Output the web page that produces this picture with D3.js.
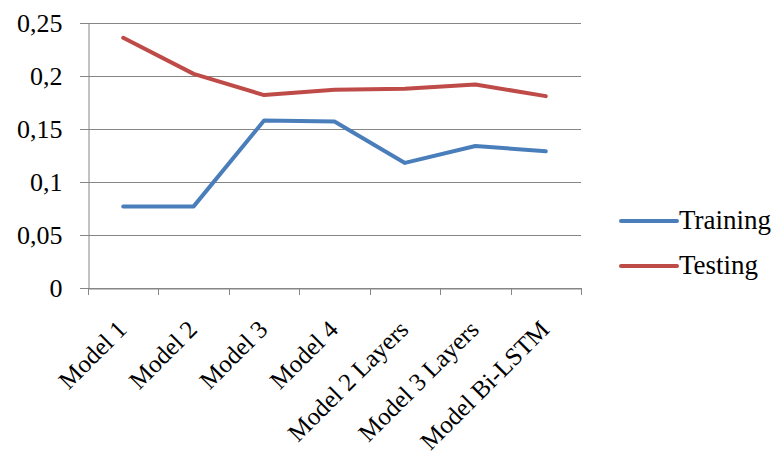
<!DOCTYPE html>
<html>
<head>
<meta charset="utf-8">
<script src="https://cdn.jsdelivr.net/npm/d3@7"></script>
<style>
  html, body { margin: 0; padding: 0; background: #fff; }
  svg { display: block; }
  text { font-family: "Liberation Serif", "Times New Roman", serif; fill: #000; }
</style>
</head>
<body>
<svg id="chart" width="774" height="454"></svg>
<script>
// Chart data
const categories = ["Model 1", "Model 2", "Model 3", "Model 4", "Model 2 Layers", "Model 3 Layers", "Model Bi-LSTM"];
const training = [0.077, 0.077, 0.158, 0.157, 0.118, 0.134, 0.129];
const testing  = [0.236, 0.202, 0.182, 0.187, 0.188, 0.192, 0.181];
const yTicks = [0, 0.05, 0.1, 0.15, 0.2, 0.25];
const seriesNames = ["Training", "Testing"];
const seriesColors = ["#4A7EBB", "#BE4B48"];

const svg = d3.select("#chart");
const plot = { left: 88, right: 581, top: 23, bottom: 288 };

const x = d3.scaleBand().domain(categories).range([plot.left, plot.right]);
const y = d3.scaleLinear().domain([0, 0.25]).range([plot.bottom, plot.top]);

const fmt = v => String(v).replace(".", ",");

// Horizontal gridlines
svg.append("g")
  .selectAll("line")
  .data(yTicks)
  .join("line")
  .attr("x1", plot.left - 8).attr("x2", plot.right)
  .attr("y1", d => Math.round(y(d)) + 0.5).attr("y2", d => Math.round(y(d)) + 0.5)
  .attr("stroke", "#868686").attr("stroke-width", 1);

// Y axis
const yAxis = svg.append("g")
  .attr("transform", `translate(${plot.left + 0.5},0)`)
  .call(d3.axisLeft(y).tickValues(yTicks).tickFormat(fmt).tickSize(0).tickPadding(26));
yAxis.select(".domain").attr("stroke", "#868686");
yAxis.selectAll("text").style("font-size", "26px").attr("fill", "#000")
  .style("font-family", "'Liberation Serif', serif");

// X axis
const xAxis = svg.append("g")
  .attr("transform", `translate(0,${Math.round(y(0)) + 0.5})`)
  .call(d3.axisBottom(x).tickSize(0).tickFormat(""));
xAxis.select(".domain").attr("stroke", "#868686");

// Category boundary ticks
const bounds = categories.map(c => x(c)).concat([x(categories[categories.length - 1]) + x.bandwidth()]);
svg.append("g")
  .selectAll("line")
  .data(bounds)
  .join("line")
  .attr("x1", d => Math.round(d) + 0.5).attr("x2", d => Math.round(d) + 0.5)
  .attr("y1", Math.round(y(0))).attr("y2", Math.round(y(0)) + 7)
  .attr("stroke", "#868686");

// Rotated category labels
svg.append("g")
  .selectAll("text")
  .data(categories)
  .join("text")
  .attr("transform", d => `translate(${x(d) + x.bandwidth() / 2 + 5},${331}) rotate(-45)`)
  .attr("text-anchor", "end")
  .style("font-size", "25px")
  .text(d => d);

// Lines
const line = d3.line()
  .x((d, i) => x(categories[i]) + x.bandwidth() / 2)
  .y(d => y(d));

[training, testing].forEach((vals, k) => {
  svg.append("path")
    .datum(vals)
    .attr("d", line)
    .attr("fill", "none")
    .attr("stroke", seriesColors[k])
    .attr("stroke-width", 4)
    .attr("stroke-linejoin", "round")
    .attr("stroke-linecap", "round");
});

// Legend
const legend = svg.append("g");
seriesNames.forEach((name, k) => {
  const ly = 221 + k * 45;
  legend.append("line")
    .attr("x1", 621).attr("x2", 677)
    .attr("y1", ly).attr("y2", ly)
    .attr("stroke", seriesColors[k]).attr("stroke-width", 4)
    .attr("stroke-linecap", "round");
  legend.append("text")
    .attr("x", 679).attr("y", ly + 8)
    .style("font-size", "27px")
    .text(name);
});
</script>
</body>
</html>
